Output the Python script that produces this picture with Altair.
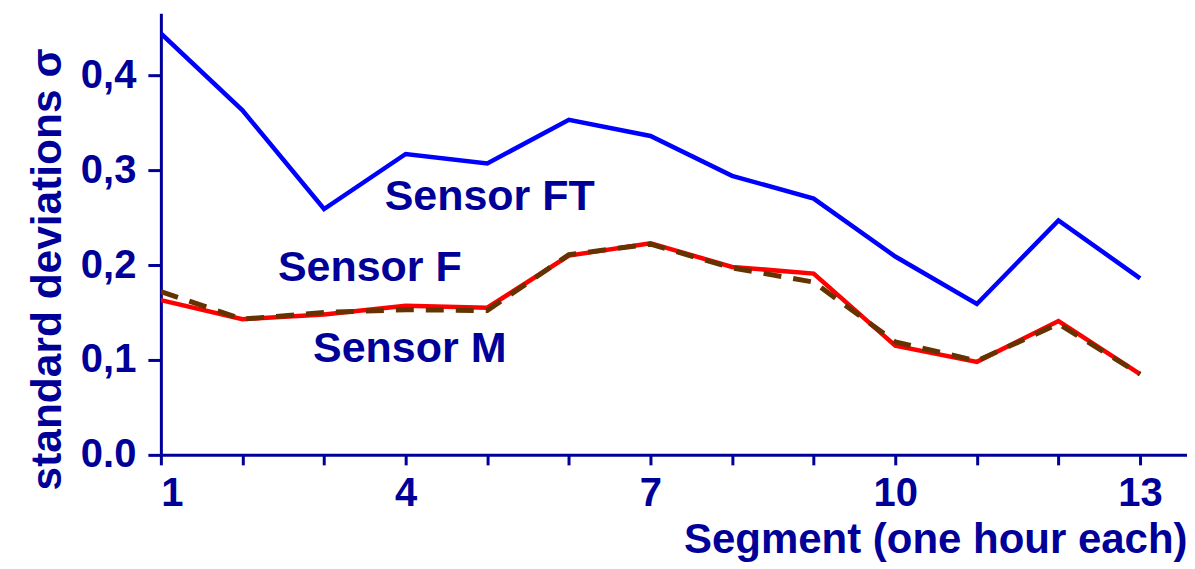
import altair as alt
import pandas as pd

segments = list(range(1, 14))
sensor_ft = [0.444, 0.363, 0.259, 0.317, 0.307, 0.353, 0.336, 0.294, 0.270, 0.209, 0.159, 0.247, 0.186]
sensor_f = [0.163, 0.143, 0.148, 0.157, 0.155, 0.210, 0.223, 0.198, 0.191, 0.115, 0.098, 0.141, 0.085]
sensor_m = [0.172, 0.143, 0.150, 0.153, 0.152, 0.211, 0.222, 0.197, 0.182, 0.119, 0.099, 0.138, 0.085]

label_text = ["Sensor FT", "Sensor F", "Sensor M"]
label_x = [5.03, 3.56, 4.05]
label_y = [0.272, 0.197, 0.111]

NAVY = "#000099"
FONT = "Liberation Sans"

rows = []
for s, v in zip(segments, sensor_ft):
    rows.append({"seg": s, "val": v, "series": "FT"})
for s, v in zip(segments, sensor_m):
    rows.append({"seg": s, "val": v, "series": "M"})
for s, v in zip(segments, sensor_f):
    rows.append({"seg": s, "val": v, "series": "F"})
df = pd.DataFrame(rows)
labels = pd.DataFrame({"text": label_text, "x": label_x, "y": label_y})

xscale = alt.Scale(domain=[1, 13.575], nice=False, zero=False)
yscale = alt.Scale(domain=[0, 0.4653], nice=False)

xaxis = alt.Axis(
    values=segments,
    labelExpr="(datum.value - 1) % 3 == 0 ? format(datum.value, 'd') : ''",
    title="Segment (one hour each)",
    titleAnchor="end",
    titleAlign="right",
    titleFontSize=42,
    titlePadding=6,
    labelFontSize=40,
    labelPadding=9,
    tickSize=10,
    grid=False,
)
yaxis = alt.Axis(
    values=[0, 0.1, 0.2, 0.3, 0.4],
    labelExpr="datum.value == 0 ? '0.0' : replace(format(datum.value, '.1f'), '.', ',')",
    title="standard deviations σ",
    titleFontSize=42.5,
    titlePadding=11,
    titleY=256,
    labelFontSize=40,
    labelPadding=12,
    tickSize=13,
    grid=False,
)

def line(series, color, width, dash=None):
    kw = dict(color=color, strokeWidth=width, clip=True)
    if dash:
        kw["strokeDash"] = dash
    return alt.Chart(df).transform_filter(alt.datum.series == series).mark_line(**kw).encode(
        x=alt.X("seg:Q", scale=xscale, axis=xaxis),
        y=alt.Y("val:Q", scale=yscale, axis=yaxis),
    )

ft = line("FT", "#0000FF", 4.5)
f = line("F", "#FF0000", 4.5)
m = line("M", "#663300", 5, [18, 12])

text = alt.Chart(labels).mark_text(
    font=FONT, fontSize=43, fontWeight="bold", color=NAVY, align="center", baseline="middle"
).encode(
    x=alt.X("x:Q", scale=xscale),
    y=alt.Y("y:Q", scale=yscale),
    text="text:N",
)

chart = alt.layer(ft, f, m, text).properties(
    width=1027,
    height=442,
    autosize=alt.AutoSizeParams(type="none"),
    padding={"left": 153, "top": 5, "right": 0, "bottom": 114},
).configure_view(stroke=None).configure_axis(
    domainColor=NAVY,
    domainWidth=3,
    tickColor=NAVY,
    tickWidth=3,
    labelColor=NAVY,
    titleColor=NAVY,
    labelFont=FONT,
    titleFont=FONT,
    labelFontWeight="bold",
    titleFontWeight="bold",
)

chart.save("out.html", embed_options={"renderer": "svg", "actions": False})
